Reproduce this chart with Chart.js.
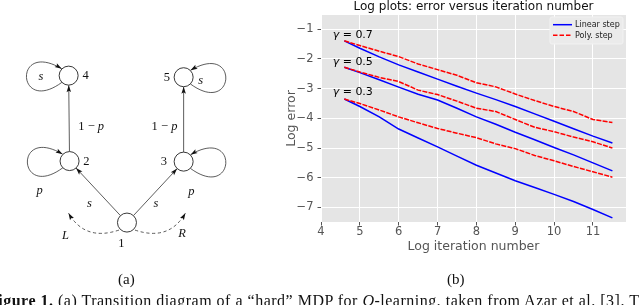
<!DOCTYPE html>
<html><head><meta charset="utf-8">
<script src="https://cdn.jsdelivr.net/npm/chart.js@4"></script>
<style>
html,body{margin:0;padding:0;background:#fff;width:640px;height:305px;overflow:hidden}
body{position:relative}
.txt{position:absolute;font-family:"Liberation Serif","DejaVu Serif",serif;color:#111;white-space:nowrap;line-height:1}
</style></head><body>
<div style="position:absolute;left:0;top:0;width:260px;height:305px"><canvas id="diag" width="260" height="305"></canvas></div>
<div style="position:absolute;left:260px;top:0;width:380px;height:305px"><canvas id="plot" width="380" height="305"></canvas></div>
<div class="txt" style="left:118px;top:272px;font-size:15px">(a)</div>
<div class="txt" style="left:447px;top:272px;font-size:15px">(b)</div>
<div id="cap" class="txt" style="left:-12px;top:293.4px;font-size:16px;letter-spacing:0.5px"><b id="capHead">Figure 1.</b> <span id="capBody">(a) Transition diagram of a “hard” MDP for <i>Q</i>-learning, taken from Azar et al. [3]. T</span></div>
<script>
// ---------- plot data ----------
const logIter = [4.6, 5.0, 5.5, 6.0, 6.5, 7.0, 7.5, 8.0, 8.5, 9.0, 9.5, 10.0, 10.5, 11.0, 11.5];
const linear07 = [-1.39, -1.64, -1.93, -2.20, -2.44, -2.68, -2.92, -3.15, -3.37, -3.60, -3.85, -4.10, -4.35, -4.60, -4.83];
const poly07   = [-1.39, -1.55, -1.74, -1.92, -2.17, -2.36, -2.55, -2.80, -2.94, -3.18, -3.40, -3.60, -3.77, -4.04, -4.14];
const linear05 = [-2.28, -2.46, -2.70, -2.95, -3.19, -3.38, -3.66, -3.95, -4.20, -4.47, -4.72, -4.98, -5.23, -5.50, -5.77];
const poly05   = [-2.28, -2.44, -2.62, -2.76, -3.05, -3.20, -3.42, -3.66, -3.77, -4.04, -4.30, -4.45, -4.63, -4.79, -5.00];
const linear03 = [-3.35, -3.60, -3.95, -4.36, -4.66, -4.96, -5.27, -5.58, -5.84, -6.10, -6.33, -6.56, -6.80, -7.07, -7.35];
const poly03   = [-3.35, -3.50, -3.72, -3.95, -4.15, -4.34, -4.50, -4.65, -4.86, -5.02, -5.25, -5.43, -5.62, -5.80, -5.98];
const seriesNames = ['Linear step', 'Poly. step'];
const gammaLabels = ['0.7', '0.5', '0.3'];
const gammaLabelX = 4.3;
const gammaLabelY = [-1.28, -2.22, -3.20];
const xTicks = [4, 5, 6, 7, 8, 9, 10, 11];
const yTicks = [-7, -6, -5, -4, -3, -2, -1];
const titleText = 'Log plots: error versus iteration number';

// ---------- diagram data ----------
const nodeIds = [1, 2, 3, 4, 5];
const nodeX = [126.7, 64.3, 188.3, 63.3, 188.3];
const nodeY = [227.7, 161.7, 162.3, 70.0, 71.7];
const edgeFrom = [1, 1, 2, 3];
const edgeTo = [2, 3, 4, 5];
const loopNode = [4, 2, 5, 3];
const loopSide = [-1, -1, 1, 1];
const nodeLabelX = [120.7, 82.7, 166.7, 81.7, 170.0];
const nodeLabelY = [250.7, 162.0, 162.0, 70.0, 72.0];
const probText = ['s', 's', 'p', 'p', 's', 's', '1 − p', '1 − p'];
const probX = [33.3, 206.7, 31.7, 196.7, 86.0, 158.3, 87.8, 167.5];
const probY = [71.7, 76.0, 193.3, 195.0, 207.3, 207.3, 124.3, 124.3];
const actionText = ['L', 'R'];
const actionX = [60.0, 186.7];
const actionY = [241.7, 239.3];
const actionSide = [-1, 1];

// caption: place so that "(a)" starts at x = 58
(function () {
  const cap = document.getElementById('cap'), body = document.getElementById('capBody');
  const off = body.getBoundingClientRect().left - cap.getBoundingClientRect().left;
  cap.style.left = (58 - off) + 'px';
})();

const F = '"DejaVu Sans", sans-serif';
const SERIF = '"Liberation Serif", "DejaVu Serif", serif';
const fmtNum = v => (v < 0 ? '\u2212' + Math.abs(v) : String(v));
const pts = arr => logIter.map((x, i) => ({x: x, y: arr[i]}));

function ds(label, arr, color, dashed) {
  return {label: label, data: pts(arr), borderColor: color, backgroundColor: color,
    borderWidth: 1.5, pointRadius: 0, tension: 0, fill: false,
    borderDash: dashed ? [5, 1.3] : [], showLine: true};
}

const bgPlugin = {
  id: 'bg',
  beforeDraw(chart) {
    const a = chart.chartArea, ctx = chart.ctx;
    ctx.save(); ctx.fillStyle = '#E5E5E5';
    ctx.fillRect(a.left, a.top, a.right - a.left, a.bottom - a.top);
    ctx.restore();
  }
};

const overlayPlugin = {
  id: 'overlay',
  afterDraw(chart) {
    const ctx = chart.ctx, a = chart.chartArea, xs = chart.scales.x, ys = chart.scales.y;
    ctx.save();
    // title
    ctx.fillStyle = '#111'; ctx.font = '12px ' + F; ctx.textAlign = 'center'; ctx.textBaseline = 'middle';
    ctx.fillText(titleText, (a.left + a.right) / 2, 7);
    // gamma labels
    ctx.textAlign = 'left'; ctx.textBaseline = 'alphabetic';
    gammaLabels.forEach((g, i) => {
      let px = xs.getPixelForValue(gammaLabelX), py = ys.getPixelForValue(gammaLabelY[i]);
      ctx.font = 'italic 11px ' + F; ctx.fillStyle = '#000';
      ctx.fillText('\u03b3', px, py);
      const w = ctx.measureText('\u03b3').width;
      ctx.font = '11px ' + F;
      ctx.fillText(' = ' + g, px + w, py);
    });
    // legend
    const lx = a.right - 76, ly = a.top + 2, lw = 73, lh = 27;
    ctx.fillStyle = 'rgba(235,235,235,0.9)'; ctx.strokeStyle = '#F2F2F2'; ctx.lineWidth = 1;
    ctx.beginPath();
    if (ctx.roundRect) ctx.roundRect(lx, ly, lw, lh, 2); else ctx.rect(lx, ly, lw, lh);
    ctx.fill(); ctx.stroke();
    const cols = ['#0000FF', '#FF0000'];
    seriesNames.forEach((n, i) => {
      const yy = ly + 7.7 + i * 10.6;
      ctx.strokeStyle = cols[i]; ctx.lineWidth = 1.5;
      ctx.setLineDash(i === 1 ? [4.5, 2] : []);
      ctx.beginPath(); ctx.moveTo(lx + 3, yy); ctx.lineTo(lx + 22, yy); ctx.stroke();
      ctx.setLineDash([]);
      ctx.fillStyle = '#222'; ctx.font = '8px ' + F; ctx.textBaseline = 'middle';
      ctx.fillText(n, lx + 25, yy + 0.5);
    });
    ctx.restore();
  }
};

new Chart(document.getElementById('plot'), {
  type: 'line',
  data: {datasets: [
    ds(seriesNames[1] + ' 0.7', poly07, '#FF0000', true),
    ds(seriesNames[1] + ' 0.5', poly05, '#FF0000', true),
    ds(seriesNames[1] + ' 0.3', poly03, '#FF0000', true),
    ds(seriesNames[0] + ' 0.7', linear07, '#0000FF', false),
    ds(seriesNames[0] + ' 0.5', linear05, '#0000FF', false),
    ds(seriesNames[0] + ' 0.3', linear03, '#0000FF', false)
  ]},
  options: {
    responsive: false, animation: false,
    layout: {padding: {left: 0, right: 14, top: 15, bottom: 0}},
    plugins: {legend: {display: false}, title: {display: false}, tooltip: {enabled: false}},
    scales: {
      x: {type: 'linear', min: 4, max: 11.85,
        afterFit: s => { s.height = 83; },
        afterBuildTicks: s => { s.ticks = xTicks.map(v => ({value: v})); },
        ticks: {font: {family: F, size: 11.5}, color: '#555', padding: 0, maxRotation: 0, autoSkip: false, callback: v => fmtNum(v)},
        grid: {color: '#FFFFFF', lineWidth: 1, tickColor: '#555', tickLength: 3.5},
        border: {display: false},
        title: {display: true, text: 'Log iteration number', color: '#555', font: {family: F, size: 12.5}, padding: {top: 0, bottom: 50.5}}
      },
      y: {type: 'linear', min: -7.49, max: -0.52,
        afterFit: s => { s.width = 61; },
        afterBuildTicks: s => { s.ticks = yTicks.map(v => ({value: v})); },
        ticks: {font: {family: F, size: 11.5}, color: '#555', padding: 4, autoSkip: false, callback: v => fmtNum(v)},
        grid: {color: '#FFFFFF', lineWidth: 1, tickColor: '#555', tickLength: 3.5},
        border: {display: false},
        title: {display: true, text: 'Log error', color: '#555', font: {family: F, size: 12.5}, padding: {top: 24.5, bottom: 0}}
      }
    }
  },
  plugins: [bgPlugin, overlayPlugin]
});

// ---------- diagram ----------
const R = 9.5;
function nodeXY(id) { const i = nodeIds.indexOf(id); return [nodeX[i], nodeY[i]]; }

function arrowHead(ctx, x, y, ang, len, wid) {
  ctx.save(); ctx.translate(x, y); ctx.rotate(ang);
  ctx.beginPath(); ctx.moveTo(0, 0); ctx.lineTo(-len, wid / 2); ctx.lineTo(-len * 0.8, 0); ctx.lineTo(-len, -wid / 2); ctx.closePath();
  ctx.fill(); ctx.restore();
}

function mixedText(ctx, text, cx, cy, size) {
  const parts = [];
  for (const ch of text) {
    const it = /[a-zA-Z]/.test(ch);
    parts.push([ch, (it ? 'italic ' : '') + size + 'px ' + SERIF]);
  }
  let w = 0;
  parts.forEach(p => { ctx.font = p[1]; w += ctx.measureText(p[0]).width; });
  let x = cx - w / 2;
  parts.forEach(p => { ctx.font = p[1]; ctx.fillText(p[0], x, cy); x += ctx.measureText(p[0]).width; });
}

const diagPlugin = {
  id: 'diagram',
  beforeDatasetsDraw(chart) {
    const ctx = chart.ctx, xs = chart.scales.x, ys = chart.scales.y;
    const P = (x, y) => [xs.getPixelForValue(x), ys.getPixelForValue(y)];
    ctx.save();
    ctx.strokeStyle = '#333'; ctx.fillStyle = '#111'; ctx.lineWidth = 0.8;
    edgeFrom.forEach((f, i) => {
      const [ax, ay] = P(...nodeXY(f)), [bx, by] = P(...nodeXY(edgeTo[i]));
      const d = Math.hypot(bx - ax, by - ay), ux = (bx - ax) / d, uy = (by - ay) / d;
      const sx = ax + ux * R, sy = ay + uy * R, ex = bx - ux * R, ey = by - uy * R;
      ctx.beginPath(); ctx.moveTo(sx, sy); ctx.lineTo(ex, ey); ctx.stroke();
      arrowHead(ctx, ex, ey, Math.atan2(uy, ux), 7, 4.5);
    });
    loopNode.forEach((n, i) => {
      const [cx, cy] = P(...nodeXY(n)), s = loopSide[i];
      const p0 = [cx + s * 6.7, cy + 6.7], c1 = [cx + s * 52, cy + 40], c2 = [cx + s * 56, cy - 36], p3 = [cx + s * 6.9, cy - 6.9];
      ctx.beginPath(); ctx.moveTo(...p0); ctx.bezierCurveTo(...c1, ...c2, ...p3); ctx.stroke();
      arrowHead(ctx, p3[0], p3[1], Math.atan2(p3[1] - c2[1], p3[0] - c2[0]), 7, 4.5);
    });
    const [c1x, c1y] = P(...nodeXY(1));
    actionSide.forEach(s => {
      const p0 = [c1x + s * 8, c1y + 7.5], cp = [c1x + s * 42, c1y + 19], p2 = [c1x + s * 58.5, c1y - 9.5];
      ctx.setLineDash([3.2, 2.6]);
      ctx.beginPath(); ctx.moveTo(...p0); ctx.quadraticCurveTo(...cp, ...p2); ctx.stroke();
      ctx.setLineDash([]);
      arrowHead(ctx, p2[0], p2[1], Math.atan2(p2[1] - cp[1], p2[0] - cp[0]), 7, 4.5);
    });
    ctx.restore();
  },
  afterDatasetsDraw(chart) {
    const ctx = chart.ctx, xs = chart.scales.x, ys = chart.scales.y;
    const P = (x, y) => [xs.getPixelForValue(x), ys.getPixelForValue(y)];
    ctx.save();
    ctx.fillStyle = '#111'; ctx.textBaseline = 'middle'; ctx.textAlign = 'left';
    nodeIds.forEach((id, i) => { const [x, y] = P(nodeLabelX[i], nodeLabelY[i]); mixedText(ctx, String(id), x, y, 12.5); });
    probText.forEach((t, i) => { const [x, y] = P(probX[i], probY[i]); mixedText(ctx, t, x, y, 12.5); });
    actionText.forEach((t, i) => { const [x, y] = P(actionX[i], actionY[i]); mixedText(ctx, t, x, y, 12.5); });
    ctx.restore();
  }
};

new Chart(document.getElementById('diag'), {
  type: 'scatter',
  data: {datasets: [{
    label: 'states',
    data: nodeIds.map((id, i) => ({x: nodeX[i], y: nodeY[i]})),
    pointRadius: R, pointBackgroundColor: '#FFFFFF', pointBorderColor: '#222', pointBorderWidth: 0.9,
    showLine: false, clip: false
  }]},
  options: {
    responsive: false, animation: false,
    layout: {padding: 0},
    plugins: {legend: {display: false}, tooltip: {enabled: false}},
    scales: {
      x: {type: 'linear', min: 0, max: 260, display: false},
      y: {type: 'linear', min: 0, max: 305, reverse: true, display: false}
    }
  },
  plugins: [diagPlugin]
});
</script>
</body></html>
